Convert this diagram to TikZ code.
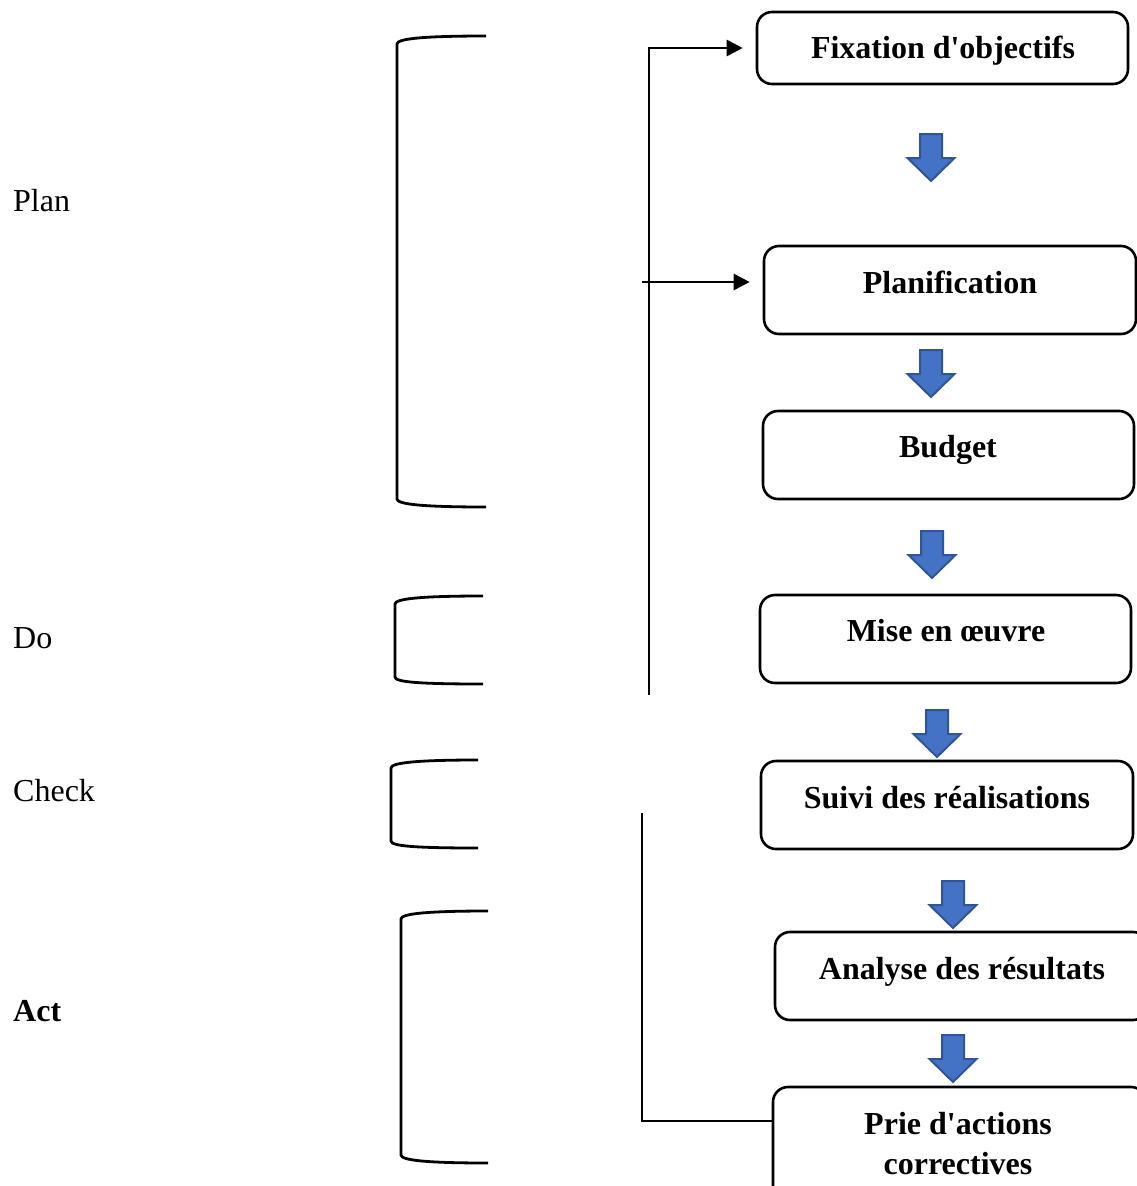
\documentclass[tikz,border=0pt]{standalone}
\usepackage{fontspec}
\setmainfont{Liberation Serif}
\usetikzlibrary{arrows.meta}
\definecolor{arrowfill}{HTML}{4472C4}
\definecolor{arrowline}{HTML}{2F5597}
\begin{document}
\begin{tikzpicture}[x=1pt,y=-1pt,
  stage/.style={draw=black,line width=2.6pt,rounded corners=15pt,inner sep=0pt},
  stagetext/.style={anchor=base,inner sep=0pt,font=\fontsize{32}{40}\selectfont\bfseries},
  phasetext/.style={anchor=base west,inner sep=0pt,font=\fontsize{32}{40}\selectfont},
  brace/.style={line width=2.8pt,line join=round},
  feedback/.style={line width=2.7pt},
  feedarrow/.style={feedback,-{Triangle[length=16pt,width=16pt]},shorten >=13pt},
  blockarrow/.pic={
    \draw[fill=arrowfill,draw=arrowline,line width=2pt,line join=miter]
      (-11,0) -- (11,0) -- (11,24) -- (23.5,24) -- (0,47) -- (-23.5,24) -- (-11,24) -- cycle;
  }]
\useasboundingbox (0,0) rectangle (1137,1186);
\clip (0,0) rectangle (1137,1186);

% process boxes
\node[stage,minimum width=371pt,minimum height=72pt] (b1) at (942.5,48) {};
\node[stage,minimum width=372pt,minimum height=88pt] (b2) at (950,290) {};
\node[stage,minimum width=371pt,minimum height=88pt] (b3) at (948.5,455) {};
\node[stage,minimum width=371pt,minimum height=88pt] (b4) at (945.5,639) {};
\node[stage,minimum width=372pt,minimum height=88pt] (b5) at (947,805) {};
\node[stage,minimum width=373pt,minimum height=88pt] (b6) at (961.5,976) {};
\node[stage,minimum width=373pt,minimum height=115pt] (b7) at (959.5,1144.5) {};

% box labels
\node[stagetext] (t1) at (943,58) {Fixation d\textquotesingle objectifs};
\node[stagetext] (t2) at (950,293) {Planification};
\node[stagetext] (t3) at (948,457) {Budget};
\node[stagetext] (t4) at (946,641) {Mise en œuvre};
\node[stagetext] (t5) at (947,808) {Suivi des réalisations};
\node[stagetext] (t6) at (962,979) {Analyse des résultats};
\node[stagetext] (t7a) at (958,1134) {Prie d\textquotesingle actions};
\node[stagetext] (t7b) at (958,1174) {correctives};

% block arrows between the stages
\pic at (931,134) {blockarrow};
\pic at (931,350) {blockarrow};
\pic at (932,531) {blockarrow};
\pic at (937,710) {blockarrow};
\pic at (953,881) {blockarrow};
\pic at (953,1035) {blockarrow};

% feedback loop
\coordinate (fbTop) at (649,48);
\coordinate (fbGap) at (649,695);
\coordinate (fbLow) at (642,813);
\coordinate (fbCorner) at (642,1121);
\coordinate (planStub) at (642,282);
\draw[feedback] (b7.west |- fbCorner) -- (fbCorner) -- (fbLow);
\draw[feedarrow] (fbGap) -- (fbTop) -- (b1.west);
\draw[feedarrow] (planStub) -- (b2.west |- planStub);

% PDCA phase labels
\node[phasetext] (plan) at (13,211) {Plan};
\node[phasetext] (do) at (13,648) {Do};
\node[phasetext] (check) at (13,801) {Check};
\node[phasetext,font=\fontsize{32}{40}\selectfont\bfseries] (act) at (13,1021) {Act};

% phase brackets
\draw[brace] (486,36) .. controls (420,36) and (397,39) .. (397,44) -- (397,499)
  .. controls (397,504) and (420,507) .. (486,507);
\draw[brace] (483,596) .. controls (418,596) and (395,599) .. (395,604) -- (395,677)
  .. controls (395,682) and (418,684) .. (483,684);
\draw[brace] (478,760) .. controls (414,760) and (391,763) .. (391,768) -- (391,841)
  .. controls (391,846) and (414,848) .. (478,848);
\draw[brace] (488,911) .. controls (424,911) and (401,914) .. (401,919) -- (401,1155)
  .. controls (401,1160) and (424,1163) .. (488,1163);
\end{tikzpicture}
\end{document}
